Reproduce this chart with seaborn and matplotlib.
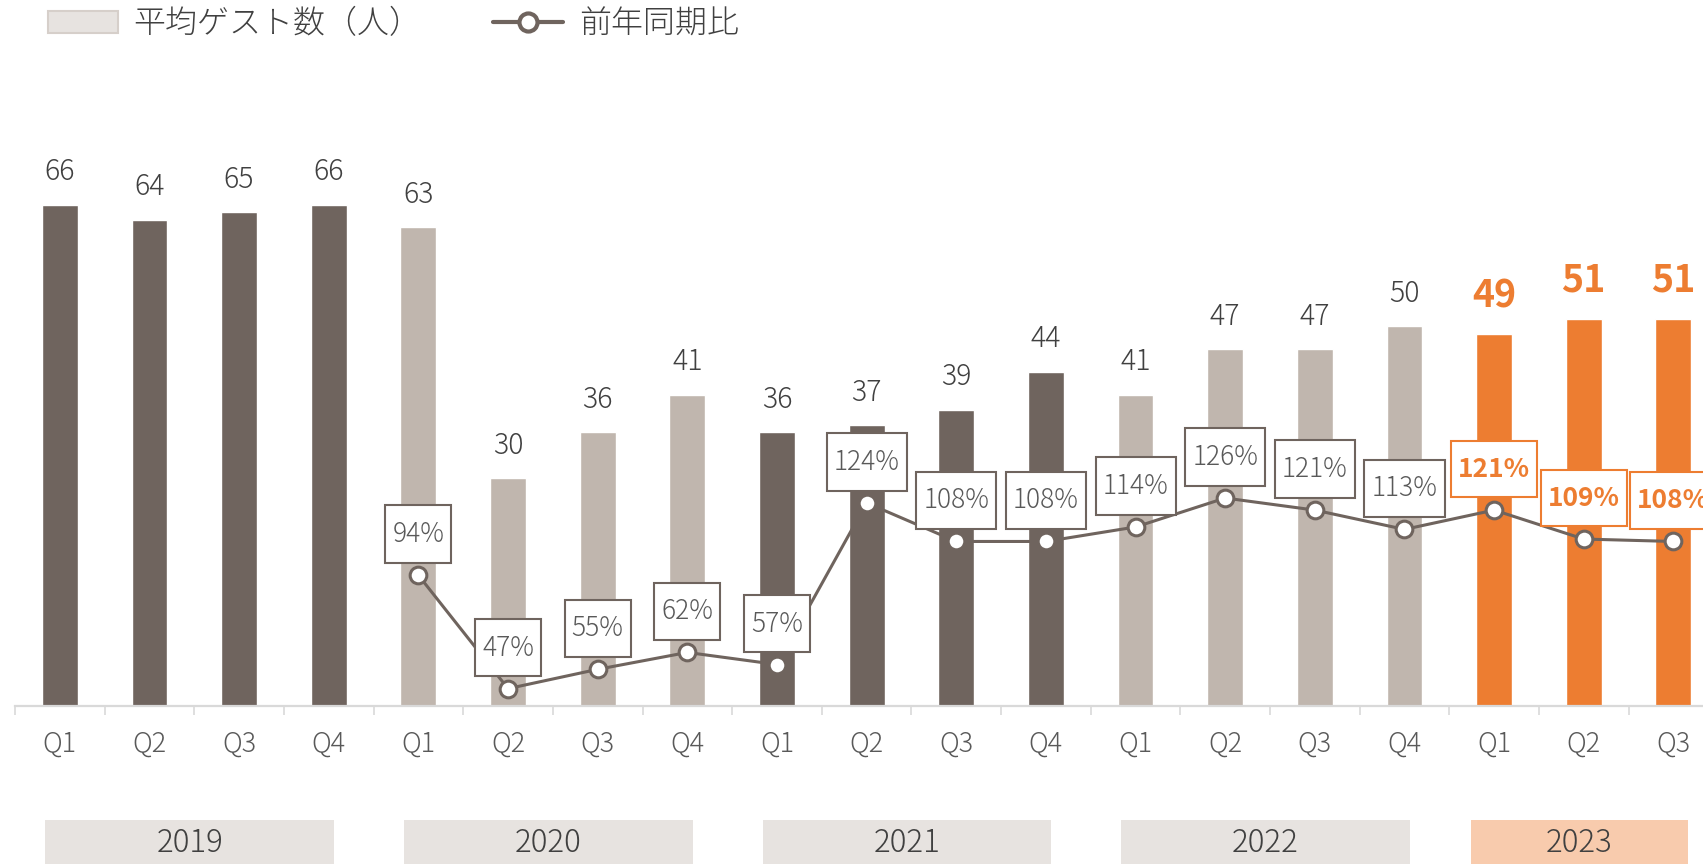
import numpy as np
import pandas as pd
import matplotlib
matplotlib.use("Agg")
import matplotlib.pyplot as plt
import matplotlib.transforms as mtransforms
from matplotlib.patches import Patch, Rectangle
from matplotlib.lines import Line2D
from matplotlib.path import Path
import seaborn as sns

# データ
years = ["2019", "2020", "2021", "2022", "2023"]
bar_years = ["2019"] * 4 + ["2020"] * 4 + ["2021"] * 4 + ["2022"] * 4 + ["2023"] * 3
quarters = ["Q1", "Q2", "Q3", "Q4"] * 4 + ["Q1", "Q2", "Q3"]
guests = [66, 64, 65, 66, 63, 30, 36, 41, 36, 37, 39, 44, 41, 47, 47, 50, 49, 51, 51]
yoy = [None, None, None, None, 94, 47, 55, 62, 57, 124, 108, 108, 114, 126, 121, 113, 121, 109, 108]

DARK = "#6f645e"
LIGHT = "#c0b6ae"
ORANGE = "#ed7d31"
TXT = "#404040"
year_colors = {"2019": DARK, "2020": LIGHT, "2021": DARK, "2022": LIGHT, "2023": ORANGE}
box_colors = {"2019": "#e7e3e0", "2020": "#e7e3e0", "2021": "#e7e3e0", "2022": "#e7e3e0", "2023": "#f8cbad"}
W = "light"


class PadBox:
    # 横と縦で余白を変えた四角
    def __init__(self, px, py):
        self.px, self.py = px, py

    def __call__(self, x0, y0, width, height, mutation_size):
        px, py = self.px * mutation_size, self.py * mutation_size
        x0, y0 = x0 - px, y0 - py
        x1, y1 = x0 + width + 2 * px, y0 + height + 2 * py
        return Path([(x0, y0), (x1, y0), (x1, y1), (x0, y1), (x0, y0)], closed=True)


sns.set_theme(style="white")
plt.rcParams['font.family'] = ['Noto Sans CJK JP', 'DejaVu Sans']

periods = [f"{y} {q}" for y, q in zip(bar_years, quarters)]
df = pd.DataFrame({"period": periods, "quarter": quarters, "year": bar_years, "guests": guests})

fig = plt.figure(figsize=(17.03, 8.64), dpi=100)
ax = fig.add_axes([15 / 1703, 158 / 864, 1688 / 1703, 566 / 864])

sns.barplot(data=df, x="period", y="guests", hue="year", palette=year_colors,
            dodge=False, width=0.4, saturation=1, legend=False, ax=ax)

# 棒の数値
for i, (v, y) in enumerate(zip(guests, bar_years)):
    if y == "2023":
        ax.annotate(str(v), (i, v), xytext=(0, 27.5), textcoords="offset points",
                    ha="center", va="center", fontsize=27, fontweight="bold", color=ORANGE)
    else:
        ax.annotate(str(v), (i, v), xytext=(0, 23.5), textcoords="offset points",
                    ha="center", va="center", fontsize=20.5, fontweight=W, color=TXT)

ax.set_xticks(range(len(quarters)))
ax.set_xticklabels(quarters, fontweight=W)
ax.set_xticks(np.arange(-0.5, len(quarters) + 0.5), minor=True)
ax.tick_params(axis="x", which="major", length=0, pad=17, labelsize=19.5, labelcolor="#595959")
ax.tick_params(axis="x", which="minor", length=6.5, width=1.2, color="#d9d9d9", direction="out", bottom=True)
ax.set_yticks([])
ax.set_xlabel("")
ax.set_ylabel("")
for s in ["top", "left", "right"]:
    ax.spines[s].set_visible(False)
ax.spines["bottom"].set_color("#d9d9d9")
ax.spines["bottom"].set_linewidth(1.6)

# 前年同期比
ax2 = ax.twinx()
pos = [i for i, v in enumerate(yoy) if v is not None]
vals = [v for v in yoy if v is not None]
line_df = pd.DataFrame({"pos": pos, "yoy": vals})
sns.lineplot(data=line_df, x="pos", y="yoy", ax=ax2, color=DARK, linewidth=2.2,
             marker="o", markersize=12, markerfacecolor="white",
             markeredgecolor=DARK, markeredgewidth=2.2)
for p, v in zip(pos, vals):
    is23 = bar_years[p] == "2023"
    ax2.annotate(f"{v}%", (p, v), xytext=(0, 29.5), textcoords="offset points",
                 ha="center", va="center", fontsize=19,
                 fontweight="bold" if is23 else W,
                 color=ORANGE if is23 else "#595959", zorder=10,
                 bbox=dict(boxstyle=PadBox(0.27, 0.56), fc="white",
                           ec=ORANGE if is23 else DARK, lw=1.5))
ax2.set_ylim(39.8, 274.4)
ax2.set_yticks([])
ax2.set_xlabel("")
ax2.set_ylabel("")
for s in ax2.spines.values():
    s.set_visible(False)

# 年ボックス
trans = mtransforms.blended_transform_factory(ax.transData, fig.transFigure)
for y in years:
    idx = [i for i, b in enumerate(bar_years) if b == y]
    c = np.mean(idx) - 0.05
    half = 0.4 * len(idx) + 0.01
    ax.add_patch(Rectangle((c - half, 0), 2 * half, 44 / 864, transform=trans,
                           facecolor=box_colors[y], edgecolor="none", clip_on=False))
    ax.text(c, 21 / 864, y, transform=trans, ha="center", va="center",
            fontsize=22.5, fontweight=W, color=TXT, clip_on=False)
ax.set_xlim(-0.5, 18.33)
ax.set_ylim(0, 74.5)

# 凡例
handles = [
    Patch(facecolor="#e7e3e0", edgecolor="#d6cfca", linewidth=1.5, label="平均ゲスト数（人）"),
    Line2D([], [], color=DARK, lw=3, marker="o", ms=13, mfc="white", mec=DARK, mew=3, label="前年同期比"),
]
leg = fig.legend(handles=handles, loc="upper left", bbox_to_anchor=(0.028, 0.992), ncol=2,
                 frameon=False, fontsize=23, handlelength=2.2, handleheight=0.7,
                 handletextpad=0.48, columnspacing=2.25, borderaxespad=0, borderpad=0)
for t in leg.get_texts():
    t.set_color(TXT)
    t.set_fontweight(W)

fig.savefig("out.png", dpi=100)
